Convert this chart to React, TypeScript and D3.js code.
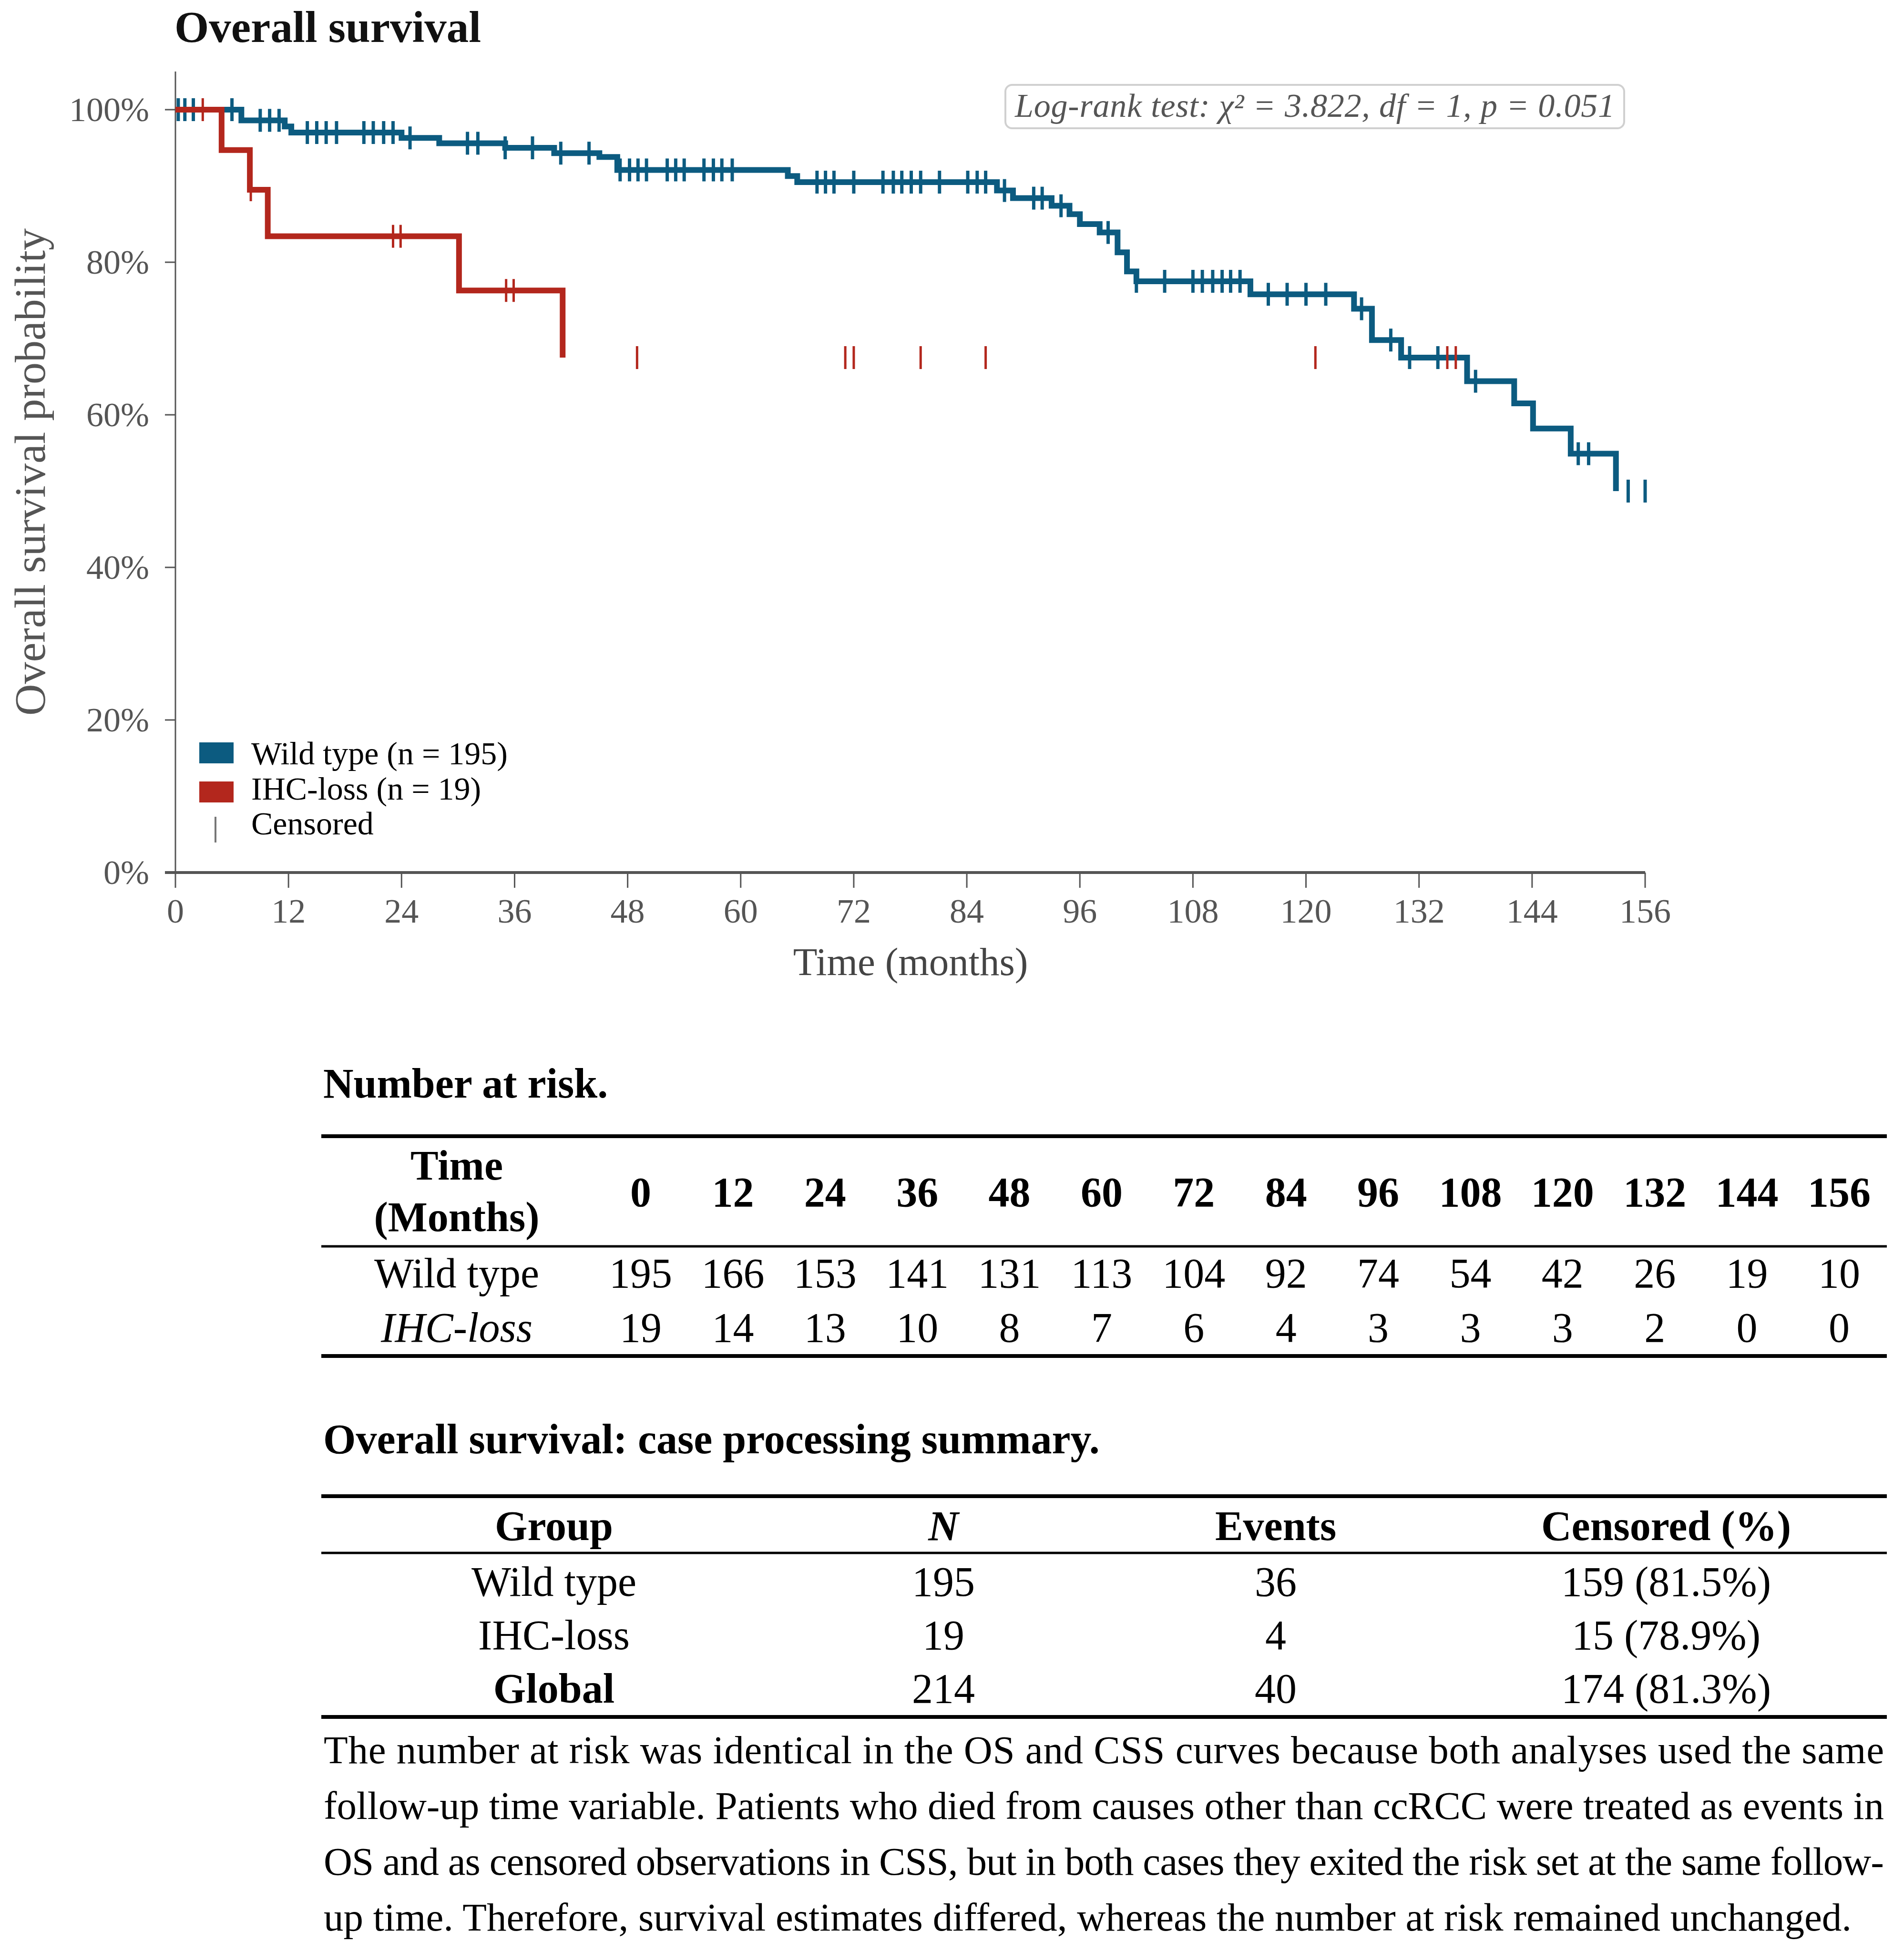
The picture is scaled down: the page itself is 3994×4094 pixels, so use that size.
import * as d3 from 'd3';
import React from 'react';

// --------------------------------------------------------
// survival data (months, survival after each drop)
// --------------------------------------------------------
const wildEventTimes = [7.0, 11.6, 12.3, 24.0, 28.0, 35.0, 40.2, 45.0, 46.9, 65.0, 66.0, 87.2, 88.9, 93.0, 94.9, 96.0, 98.1, 100.0, 101.0, 102.0, 114.1, 125.1, 127.0, 130.1, 137.1, 142.1, 144.1, 148.1, 152.9];
const wildEventSurv = [0.986, 0.978, 0.970, 0.963, 0.956, 0.950, 0.943, 0.938, 0.921, 0.913, 0.905, 0.894, 0.884, 0.874, 0.863, 0.850, 0.839, 0.813, 0.788, 0.775, 0.758, 0.739, 0.698, 0.675, 0.644, 0.615, 0.582, 0.549, 0.500];
const wildCensorTimes = [0.3, 1.0, 1.9, 6.0, 9.0, 10.0, 11.0, 14.0, 15.0, 16.0, 17.1, 20.0, 21.0, 22.1, 23.1, 24.9, 31.0, 32.1, 35.0, 37.9, 40.9, 43.9, 47.2, 48.2, 49.1, 50.0, 52.2, 53.1, 54.0, 56.1, 57.1, 58.0, 59.1, 68.1, 69.0, 69.9, 72.0, 75.1, 76.2, 77.1, 78.1, 79.1, 81.1, 84.1, 85.1, 86.0, 88.0, 91.1, 92.0, 94.0, 99.0, 102.0, 105.0, 108.0, 109.0, 110.1, 111.1, 112.0, 113.0, 116.0, 118.0, 120.0, 122.1, 125.9, 129.0, 131.0, 134.0, 138.0, 148.9, 150.0, 154.2, 156.0];

const ihcEventTimes = [4.9, 7.9, 9.8, 30.1, 41.1];
const ihcEventSurv = [0.947, 0.895, 0.834, 0.763, 0.675];
const ihcCensorTimes = [2.9, 8.0, 23.1, 23.9, 35.1, 35.9, 49.0, 71.1, 72.0, 79.1, 86.0, 121.0, 135.0, 135.9];

const xTicks = [0, 12, 24, 36, 48, 60, 72, 84, 96, 108, 120, 132, 144, 156];
const yTicks = [0, 0.2, 0.4, 0.6, 0.8, 1.0];

// number at risk table
const riskTimes = [0, 12, 24, 36, 48, 60, 72, 84, 96, 108, 120, 132, 144, 156];
const riskWild = [195, 166, 153, 141, 131, 113, 104, 92, 74, 54, 42, 26, 19, 10];
const riskIhc = [19, 14, 13, 10, 8, 7, 6, 4, 3, 3, 3, 2, 0, 0];

// case processing summary
const summaryHeader = ['Group', 'N', 'Events', 'Censored (%)'];
const summaryGroups = ['Wild type', 'IHC-loss', 'Global'];
const summaryN = [195, 19, 214];
const summaryEvents = [36, 4, 40];
const summaryCensored = ['159 (81.5%)', '15 (78.9%)', '174 (81.3%)'];

const noteLines = [
  'The number at risk was identical in the OS and CSS curves because both analyses used the same',
  'follow-up time variable. Patients who died from causes other than ccRCC were treated as events in',
  'OS and as censored observations in CSS, but in both cases they exited the risk set at the same follow-',
  'up time. Therefore, survival estimates differed, whereas the number at risk remained unchanged.'
];

const BLUE = '#0c5b80';
const RED = '#b3271d';
const FONT = '"Liberation Serif", "Times New Roman", serif';

function App() {
  // --------------------------------------------------------
  // scales
  // --------------------------------------------------------
  const x = d3.scaleLinear([0, 156], [368, 3451]);
  const y = d3.scaleLinear([0, 1.05], [1830, 150]);
  const pct = d3.format('.0%');

  const stepLine = d3.line<[number, number]>()
    .x(d => x(d[0]))
    .y(d => y(d[1]))
    .curve(d3.curveStepAfter);

  const curvePoints = (times: number[], surv: number[]): [number, number][] =>
    [[0, 1] as [number, number]].concat(times.map((t, i) => [t, surv[i]] as [number, number]));

  // survival level at a censoring time
  const survAt = (times: number[], surv: number[], t: number) => {
    const i = d3.bisectRight(times, t) - 1;
    return i < 0 ? 1 : surv[i];
  };

  const series = [
    { times: wildEventTimes, surv: wildEventSurv, cens: wildCensorTimes, color: BLUE, tickW: 7 },
    { times: ihcEventTimes, surv: ihcEventSurv, cens: ihcCensorTimes, color: RED, tickW: 5 }
  ];

  // table layout
  const riskX = d3.scalePoint<number>().domain(riskTimes).range([1344, 3858]);
  const sumX = [1162, 1979, 2676, 3495];
  const tblLeft = 674;
  const tblRight = 3958;

  return (
    <svg width={3994} height={4094} style={{ position: 'absolute', left: 0, top: 0, background: '#fff' }}
      fontFamily={FONT}>
      <rect width={3994} height={4094} fill="#fff" />

      {/* title */}
      <text x={366} y={88} fontSize={93} fontWeight="bold" fill="#111">Overall survival</text>

      {/* y axis */}
      <line x1={368} x2={368} y1={150} y2={1830} stroke="#555" strokeWidth={3} />
      {yTicks.map(t => (
        <g key={'y' + t}>
          <line x1={346} x2={368} y1={y(t)} y2={y(t)} stroke="#555" strokeWidth={3} />
          <text x={313} y={y(t) + 24} fontSize={72} textAnchor="end" fill="#555">{pct(t)}</text>
        </g>
      ))}
      <text transform={`translate(94,990) rotate(-90)`} fontSize={92} textAnchor="middle" fill="#555">
        Overall survival probability
      </text>

      {/* x axis */}
      <line x1={346} x2={3451} y1={1830} y2={1830} stroke="#555" strokeWidth={6} />
      {xTicks.map(t => (
        <g key={'x' + t}>
          <line x1={x(t)} x2={x(t)} y1={1830} y2={1862} stroke="#555" strokeWidth={3} />
          <text x={x(t)} y={1935} fontSize={72} textAnchor="middle" fill="#555">{t}</text>
        </g>
      ))}
      <text x={1910} y={2045} fontSize={83} textAnchor="middle" fill="#444">Time (months)</text>

      {/* curves and censor marks */}
      {series.map((s, k) => (
        <g key={'s' + k}>
          <path d={stepLine(curvePoints(s.times, s.surv)) || ''} fill="none" stroke={s.color}
            strokeWidth={12} strokeLinejoin="miter" />
          {s.cens.map((t, j) => {
            const cy = y(survAt(s.times, s.surv, t));
            return <line key={j} x1={x(t)} x2={x(t)} y1={cy - 24} y2={cy + 24}
              stroke={s.color} strokeWidth={s.tickW} />;
          })}
        </g>
      ))}

      {/* log-rank box */}
      <rect x={2109} y={178} width={1298} height={91} rx={14} fill="#fff" stroke="#d0d0d0" strokeWidth={4} />
      <text x={2758} y={245} fontSize={70} fontStyle="italic" textAnchor="middle" fill="#555"
        textLength={1258} lengthAdjust="spacing">
        Log-rank test: χ² = 3.822, df = 1, p = 0.051
      </text>

      {/* legend */}
      <rect x={418} y={1557} width={72} height={44} fill={BLUE} />
      <rect x={418} y={1639} width={72} height={44} fill={RED} />
      <line x1={452} x2={452} y1={1713} y2={1767} stroke="#777" strokeWidth={4} />
      <text x={527} y={1603} fontSize={68} fill="#000">Wild type (n = 195)</text>
      <text x={527} y={1677} fontSize={68} fill="#000">IHC-loss (n = 19)</text>
      <text x={527} y={1750} fontSize={68} fill="#000">Censored</text>

      {/* number at risk table */}
      <text x={678} y={2302} fontSize={88} fontWeight="bold" fill="#000">Number at risk.</text>
      <line x1={tblLeft} x2={tblRight} y1={2383} y2={2383} stroke="#000" strokeWidth={8} />
      <text x={958} y={2474} fontSize={88} fontWeight="bold" textAnchor="middle">Time</text>
      <text x={958} y={2582} fontSize={88} fontWeight="bold" textAnchor="middle">(Months)</text>
      {riskTimes.map(t => (
        <text key={'h' + t} x={riskX(t)} y={2530} fontSize={88} fontWeight="bold" textAnchor="middle">{t}</text>
      ))}
      <line x1={tblLeft} x2={tblRight} y1={2614} y2={2614} stroke="#000" strokeWidth={5} />
      <text x={958} y={2700} fontSize={88} textAnchor="middle">Wild type</text>
      <text x={958} y={2814} fontSize={88} fontStyle="italic" textAnchor="middle">IHC-loss</text>
      {riskTimes.map((t, i) => (
        <g key={'r' + t}>
          <text x={riskX(t)} y={2700} fontSize={88} textAnchor="middle">{riskWild[i]}</text>
          <text x={riskX(t)} y={2814} fontSize={88} textAnchor="middle">{riskIhc[i]}</text>
        </g>
      ))}
      <line x1={tblLeft} x2={tblRight} y1={2844} y2={2844} stroke="#000" strokeWidth={8} />

      {/* case processing summary table */}
      <text x={678} y={3048} fontSize={88} fontWeight="bold" fill="#000">
        Overall survival: case processing summary.
      </text>
      <line x1={tblLeft} x2={tblRight} y1={3138} y2={3138} stroke="#000" strokeWidth={8} />
      {summaryHeader.map((h, i) => (
        <text key={h} x={sumX[i]} y={3230} fontSize={88} fontWeight="bold" textAnchor="middle"
          fontStyle={h === 'N' ? 'italic' : 'normal'}>{h}</text>
      ))}
      <line x1={tblLeft} x2={tblRight} y1={3257} y2={3257} stroke="#000" strokeWidth={5} />
      {summaryGroups.map((g, i) => {
        const ry = 3347 + i * 112;
        return (
          <g key={g}>
            <text x={sumX[0]} y={ry} fontSize={88} textAnchor="middle"
              fontWeight={g === 'Global' ? 'bold' : 'normal'}>{g}</text>
            <text x={sumX[1]} y={ry} fontSize={88} textAnchor="middle">{summaryN[i]}</text>
            <text x={sumX[2]} y={ry} fontSize={88} textAnchor="middle">{summaryEvents[i]}</text>
            <text x={sumX[3]} y={ry} fontSize={88} textAnchor="middle">{summaryCensored[i]}</text>
          </g>
        );
      })}
      <line x1={tblLeft} x2={tblRight} y1={3601} y2={3601} stroke="#000" strokeWidth={8} />

      {/* footnote */}
      {noteLines.map((l, i) => (
        <text key={i} x={679} y={3698 + i * 117} fontSize={83}
          textLength={i < noteLines.length - 1 ? 3273 : undefined}
          lengthAdjust="spacing">{l}</text>
      ))}
    </svg>
  );
}

export default App;
